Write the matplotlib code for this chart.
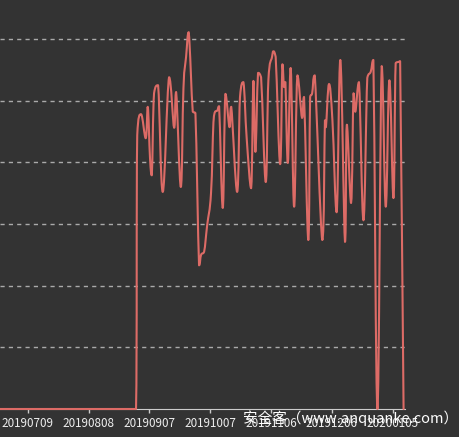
import matplotlib.pyplot as plt
import numpy as np
from matplotlib.path import Path
from matplotlib.patches import PathPatch

plt.rcParams['font.family'] = ['Noto Sans CJK SC', 'DejaVu Sans']

# days counted from 2019-07-09
day = [-14, 53.4, 54.0, 55.9, 58.2, 59.2, 60.3, 61.2, 62.3, 64.3, 66.6, 69.7, 72.2, 73.2,
       75.5, 76.8, 78.1, 79.4, 81.4, 82.7, 84.5, 85.5, 87.0, 88.5, 90.4, 91.6, 92.4, 93.5,
       94.4, 96.2, 97.5, 99.5, 100.4, 103.3, 104.7, 106.4, 108.0, 110.2, 111.3, 112.3,
       113.6, 115.1, 117.4, 118.7, 120.5, 121.2, 122.3, 124.5, 125.6, 126.4, 127.1, 128.3,
       129.7, 131.4, 133.0, 135.3, 136.3, 138.4, 139.3, 140.3, 141.6, 145.3, 146.6, 147.1,
       148.6, 150.3, 152.4, 154.2, 156.5, 157.4, 159.5, 160.7, 161.6, 163.4, 165.6, 167.5,
       169.2, 170.5, 172.5, 174.6, 176.6, 178.4, 180.4, 181.5, 183.2, 183.7, 185.4]
value = [0, 0, 444, 478, 439, 490, 407, 379, 512, 525, 352, 538, 456, 514,
         360, 520, 571, 611, 482, 480, 233, 250, 255, 298, 350, 465, 482, 484,
         491, 326, 511, 457, 490, 352, 506, 530, 439, 358, 532, 417,
         545, 538, 368, 533, 571, 580, 571, 397, 559, 522, 530, 399,
         553, 328, 541, 472, 506, 274, 506, 512, 541, 274, 468, 457,
         527, 468, 319, 566, 271, 461, 334, 512, 482, 530, 306, 537,
         547, 566, 0, 556, 328, 533, 342, 561, 563, 564, 0]

tick_days = [0, 30, 60, 90, 120, 150, 180]
tick_labels = ['20190709', '20190808', '20190907', '20191007', '20191106', '20191206', '20200105']


def smooth_path(x, y, s=0.2):
    n = len(x)
    verts = [(x[0], y[0])]
    codes = [Path.MOVETO]
    for i in range(n - 1):
        p = max(i - 1, 0)
        q = min(i + 2, n - 1)
        lo, hi = min(y[i], y[i + 1]), max(y[i], y[i + 1])
        c1x = min(x[i] + s * (x[i + 1] - x[p]), x[i + 1])
        c1y = np.clip(y[i] + s * (y[i + 1] - y[p]), lo, hi)
        c2x = max(x[i + 1] - s * (x[q] - x[i]), x[i])
        c2y = np.clip(y[i + 1] - s * (y[q] - y[i]), lo, hi)
        verts += [(c1x, c1y), (c2x, c2y), (x[i + 1], y[i + 1])]
        codes += [Path.CURVE4] * 3
    return Path(verts, codes)


bg = '#333333'
fig = plt.figure(figsize=(4.59, 4.37), dpi=100, facecolor=bg)
ax = fig.add_axes([0, 28 / 437, 405 / 459, 409 / 437], facecolor=bg)

ax.set_xlim(-13.7, 186.1)
ax.set_ylim(0, 409 / 0.6167)

for g in range(100, 700, 100):
    ax.axhline(g, color='#aaaaaa', lw=1, ls=(0, (3, 3)), zorder=1)

patch = PathPatch(smooth_path(day, value), fill=False, edgecolor='#dd6b66', lw=1.5,
                  zorder=3, clip_on=False, joinstyle='round', capstyle='round')
ax.add_patch(patch)

for s in ['left', 'right', 'top']:
    ax.spines[s].set_visible(False)
ax.spines['bottom'].set_color('#cccccc')
ax.spines['bottom'].set_zorder(2)
ax.set_yticks([])
ax.set_xticks(tick_days)
ax.set_xticklabels(tick_labels)
ax.tick_params(axis='x', colors='#cccccc', labelcolor='#eeeeee', length=3, width=1,
               labelsize=8.4, pad=3)

fig.text(243 / 459, 1 - 418 / 437, '安全客（www.anquanke.com）', color='white',
         fontsize=10.5, ha='left', va='center')

fig.savefig('out.png', dpi=100, facecolor=bg)
